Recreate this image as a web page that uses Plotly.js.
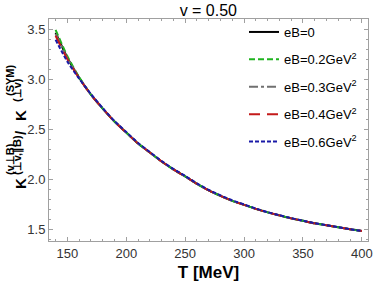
<!DOCTYPE html>
<html>
<head>
<meta charset="utf-8">
<script src="https://cdn.plot.ly/plotly-3.0.1.min.js"></script>
<style>html,body{margin:0;padding:0;background:#fff;}#chart{width:374px;height:284px;}</style>
</head>
<body>
<div id="chart"></div>
<script>
// Temperature grid (MeV)
const T = [140,150,160,170,180,190,200,210,220,230,240,250,260,270,280,290,300,310,320,330,340,350,360,370,380,390,400];
// Ratio K(v⊥B)/K(SYM) for each field strength
const eB0  = [3.47,3.22,3.02,2.85,2.71,2.58,2.47,2.36,2.27,2.18,2.10,2.03,1.955,1.89,1.835,1.785,1.745,1.705,1.67,1.64,1.61,1.585,1.56,1.54,1.52,1.50,1.483];
const eB02 = [3.50,3.235,3.025,2.85,2.71,2.58,2.47,2.36,2.27,2.18,2.10,2.03,1.955,1.89,1.835,1.785,1.745,1.705,1.67,1.64,1.61,1.585,1.56,1.54,1.52,1.50,1.483];
const eB03 = [3.46,3.215,3.02,2.85,2.71,2.58,2.47,2.36,2.27,2.18,2.10,2.03,1.955,1.89,1.835,1.785,1.745,1.705,1.67,1.64,1.61,1.585,1.56,1.54,1.52,1.50,1.483];
const eB04 = [3.44,3.205,3.015,2.85,2.71,2.58,2.47,2.36,2.27,2.18,2.10,2.03,1.955,1.89,1.835,1.785,1.745,1.705,1.67,1.64,1.61,1.585,1.56,1.54,1.52,1.50,1.483];
const eB06 = [3.40,3.18,3.01,2.855,2.715,2.585,2.475,2.365,2.275,2.185,2.105,2.035,1.96,1.895,1.84,1.79,1.75,1.708,1.672,1.642,1.612,1.587,1.562,1.541,1.521,1.501,1.483];
const seriesLabels = ['eB=0','eB=0.2GeV<sup>2</sup>','eB=0.3GeV<sup>2</sup>','eB=0.4GeV<sup>2</sup>','eB=0.6GeV<sup>2</sup>'];
const seriesData = [eB0, eB02, eB03, eB04, eB06];
const colors = ['#000000','#1fb41f','#707070','#c41a1a','#1a1aa8'];
const dashes = ['solid','6px,3px','dashdot','11px,7px','4px,2px'];

const traces = seriesData.map((y,i)=>({
  x: T, y: y, type:'scatter', mode:'lines', name: seriesLabels[i],
  legendgroup: 'g'+i,
  line:{color:colors[i], width:2, dash:dashes[i], shape:'spline', smoothing:0.6}
}));

const L=49, R=368, TOP=19, BOT=241;
const px2x = p => (p-L)/(R-L);
const px2y = p => (BOT-p)/(BOT-TOP);
const tf = {family:'Liberation Sans, Arial, sans-serif', color:'#000'};
function ann(text, x, y, size){
  return {text:'<b>'+text+'</b>', xref:'paper', yref:'paper', x:px2x(x), y:px2y(y),
    xanchor:'center', yanchor:'middle', textangle:-90, showarrow:false,
    font:Object.assign({size:size}, tf)};
}
const annotations = [
  ann('K', 20, 184, 15),
  ann('(v⊥B)', 10, 159, 11),
  ann('(⊥v,∥B)', 17, 155, 11),
  ann('/', 20, 133, 15),
  ann('K', 20, 116, 15),
  ann('(SYM)', 10, 80, 11),
  ann('(⊥v)', 17, 90, 11)
];

const axisCommon = {
  showline:true, linecolor:'#a0a0a0', linewidth:1, mirror:'allticks',
  ticks:'inside', ticklen:4, tickcolor:'#a0a0a0', tickwidth:1,
  showgrid:false, zeroline:false,
  tickfont:{family:'Liberation Sans, Arial, sans-serif', size:13, color:'#333'}
};

const layout = {
  width:374, height:284,
  margin:{l:L, r:374-R, t:TOP, b:284-BOT},
  paper_bgcolor:'#fff', plot_bgcolor:'#fff',
  title:{text:'v = 0.50', x:0.557, xanchor:'center', y:0.965, yanchor:'middle',
    font:{family:'Liberation Sans, Arial, sans-serif', size:16, color:'#000'}},
  xaxis: Object.assign({}, axisCommon, {
    range:[134.4,405.2], tick0:0, dtick:50,
    minor:{dtick:10, ticklen:2, tickcolor:'#a0a0a0', ticks:'inside'},
    title:{text:'<b>T [MeV]</b>', standoff:6, font:{family:'Liberation Sans, Arial, sans-serif', size:17, color:'#000'}}
  }),
  yaxis: Object.assign({}, axisCommon, {
    range:[1.383,3.608], tick0:0, dtick:0.5, tickformat:'.1f',
    minor:{dtick:0.1, ticklen:2, tickcolor:'#a0a0a0', ticks:'inside'}
  }),
  showlegend:true,
  legend:{x:px2x(244), y:px2y(17), xanchor:'left', yanchor:'top', bgcolor:'rgba(0,0,0,0)',
    traceorder:'grouped', tracegroupgap:7.5,
    font:{family:'Liberation Sans, Arial, sans-serif', size:13, color:'#000'}},
  annotations: annotations
};

Plotly.newPlot('chart', traces, layout, {displayModeBar:false, staticPlot:true});
</script>
</body>
</html>
